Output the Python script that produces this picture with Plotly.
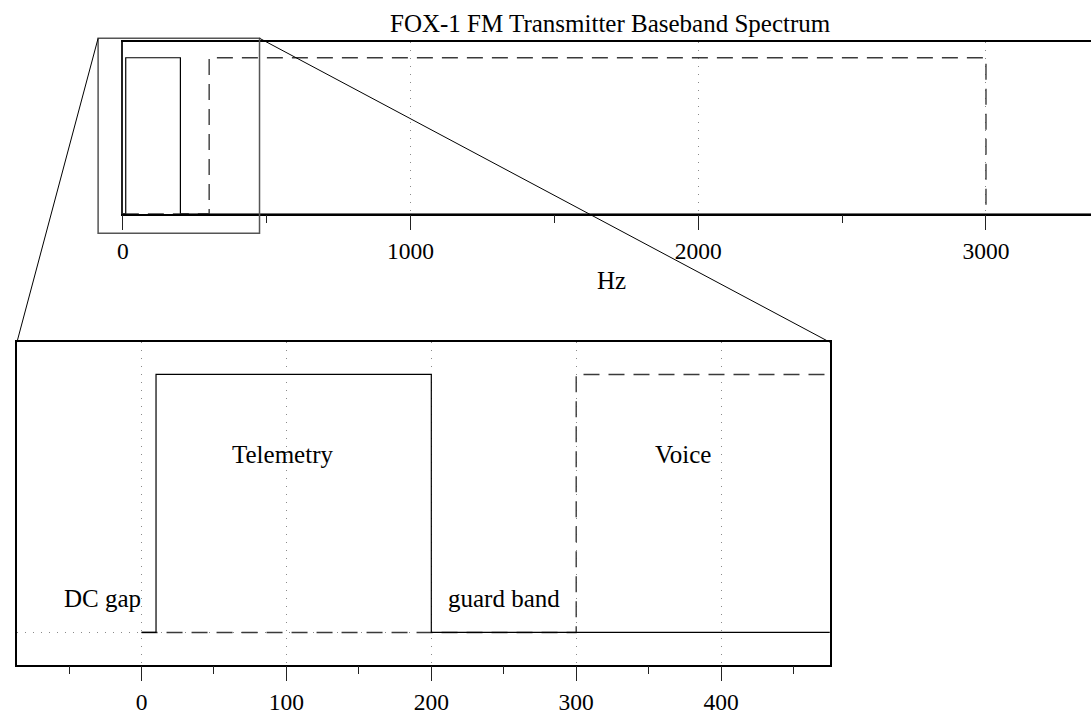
import plotly.graph_objects as go

# ---- data ----
tele_f = [0, 10, 10, 200, 200, 3400]
tele_a = [0, 0, 1, 1, 0, 0]
voice_f = [0, 300, 300, 3000, 3000]
voice_a = [0, 0, 1, 1, 0]

top_xticks = [0, 1000, 2000, 3000]
bot_xticks = [0, 100, 200, 300, 400]

labels = ["DC gap", "Telemetry", "guard band", "Voice"]
label_f = [-27, 97, 250, 373.5]
label_a = [0.133, 0.69, 0.133, 0.69]

title_text = "FOX-1 FM Transmitter Baseband Spectrum"
xlabel_text = "Hz"

# ---- layout geometry ----
W, H = 1091, 715
TOP_XR = [0, 3365]
TOP_YR = [0, 1.1]
BOT_XR = [-86, 475]
BOT_YR = [-0.125, 1.125]
TOP_XDOM = [117.5 / W, 1.0]
TOP_YDOM = [1 - 218 / H, 1 - 43 / H]
BOT_XDOM = [11 / W, 828.3 / W]
BOT_YDOM = [1 - 678 / H, 1 - 349 / H]

FONT = "Liberation Serif"
FS = 25
TFS = 23.5


def top_px(v):
    return TOP_XDOM[0] + (v - TOP_XR[0]) / (TOP_XR[1] - TOP_XR[0]) * (TOP_XDOM[1] - TOP_XDOM[0])


def top_py(v):
    return TOP_YDOM[0] + (v - TOP_YR[0]) / (TOP_YR[1] - TOP_YR[0]) * (TOP_YDOM[1] - TOP_YDOM[0])


fig = go.Figure()

voice_style = dict(color="#3a3a3a", width=1.4, dash="16px,9px")
tele_style = dict(color="black", width=1.2)

fig.add_trace(go.Scatter(x=voice_f, y=voice_a, mode="lines", line=voice_style,
                         xaxis="x", yaxis="y", showlegend=False, hoverinfo="skip"))
fig.add_trace(go.Scatter(x=tele_f, y=tele_a, mode="lines", line=tele_style,
                         xaxis="x", yaxis="y", showlegend=False, hoverinfo="skip"))
fig.add_trace(go.Scatter(x=voice_f, y=voice_a, mode="lines", line=voice_style,
                         xaxis="x2", yaxis="y2", showlegend=False, hoverinfo="skip"))
fig.add_trace(go.Scatter(x=tele_f, y=tele_a, mode="lines", line=tele_style,
                         xaxis="x2", yaxis="y2", showlegend=False, hoverinfo="skip"))

grid = dict(showgrid=True, gridcolor="#8a8a8a", gridwidth=1, griddash="1px,7px")

fig.update_layout(
    width=W, height=H,
    margin=dict(l=0, r=0, t=0, b=0),
    paper_bgcolor="white", plot_bgcolor="white",
    font=dict(family=FONT, size=FS, color="black"),
    xaxis=dict(domain=TOP_XDOM, range=TOP_XR, anchor="y",
               tickvals=top_xticks, ticks="outside", ticklen=15, tickwidth=1.3,
               tickcolor="#222", showline=True, linecolor="black", linewidth=1.5,
               mirror=True, zeroline=False,
               minor=dict(dtick=500, tick0=0, ticks="outside", ticklen=8,
                          tickwidth=1.3, tickcolor="#222", showgrid=False),
               tickfont=dict(family=FONT, size=TFS), **grid),
    yaxis=dict(domain=TOP_YDOM, range=TOP_YR, anchor="x",
               showline=True, linecolor="#222", linewidth=1.5,
               showgrid=False, zeroline=False, showticklabels=False, ticks=""),
    xaxis2=dict(domain=BOT_XDOM, range=BOT_XR, anchor="y2",
                tickvals=bot_xticks, ticks="outside", ticklen=15, tickwidth=1.3,
                tickcolor="#222", showline=True, linecolor="black", linewidth=1.5,
                mirror=True, zeroline=False,
                minor=dict(dtick=50, tick0=0, ticks="outside", ticklen=8,
                           tickwidth=1.3, tickcolor="#222", showgrid=False),
                tickfont=dict(family=FONT, size=TFS), **grid),
    yaxis2=dict(domain=BOT_YDOM, range=BOT_YR, anchor="x2",
                showline=True, linecolor="black", linewidth=1.5, mirror=True,
                tickvals=[0], showticklabels=False, ticks="", zeroline=False, **grid),
)

# zoom box in the top panel (mapped from the bottom panel's ranges)
bx0, bx1 = top_px(BOT_XR[0]), top_px(BOT_XR[1])
by0, by1 = top_py(BOT_YR[0]), top_py(BOT_YR[1])
fig.add_shape(type="rect", xref="paper", yref="paper", x0=bx0, x1=bx1, y0=by0, y1=by1,
              line=dict(color="#555", width=1.5), layer="above")
fig.add_shape(type="line", xref="paper", yref="paper", x0=bx0, y0=by1,
              x1=BOT_XDOM[0], y1=BOT_YDOM[1], line=dict(color="black", width=1), layer="above")
fig.add_shape(type="line", xref="paper", yref="paper", x0=bx1, y0=by1,
              x1=BOT_XDOM[1], y1=BOT_YDOM[1], line=dict(color="black", width=1), layer="above")

# titles
fig.add_annotation(text=title_text, xref="paper", yref="paper", x=608 / W, y=1 - 24 / H,
                   showarrow=False, xanchor="center", yanchor="middle",
                   font=dict(family=FONT, size=FS))
fig.add_annotation(text=xlabel_text, xref="paper", yref="paper", x=609 / W, y=1 - 286 / H,
                   showarrow=False, xanchor="center", yanchor="middle",
                   font=dict(family=FONT, size=FS))

for t, f, a in zip(labels, label_f, label_a):
    fig.add_annotation(text=t, xref="x2", yref="y2", x=f, y=a, showarrow=False,
                       xanchor="center", yanchor="middle", font=dict(family=FONT, size=FS))

fig.write_html("out.html")
